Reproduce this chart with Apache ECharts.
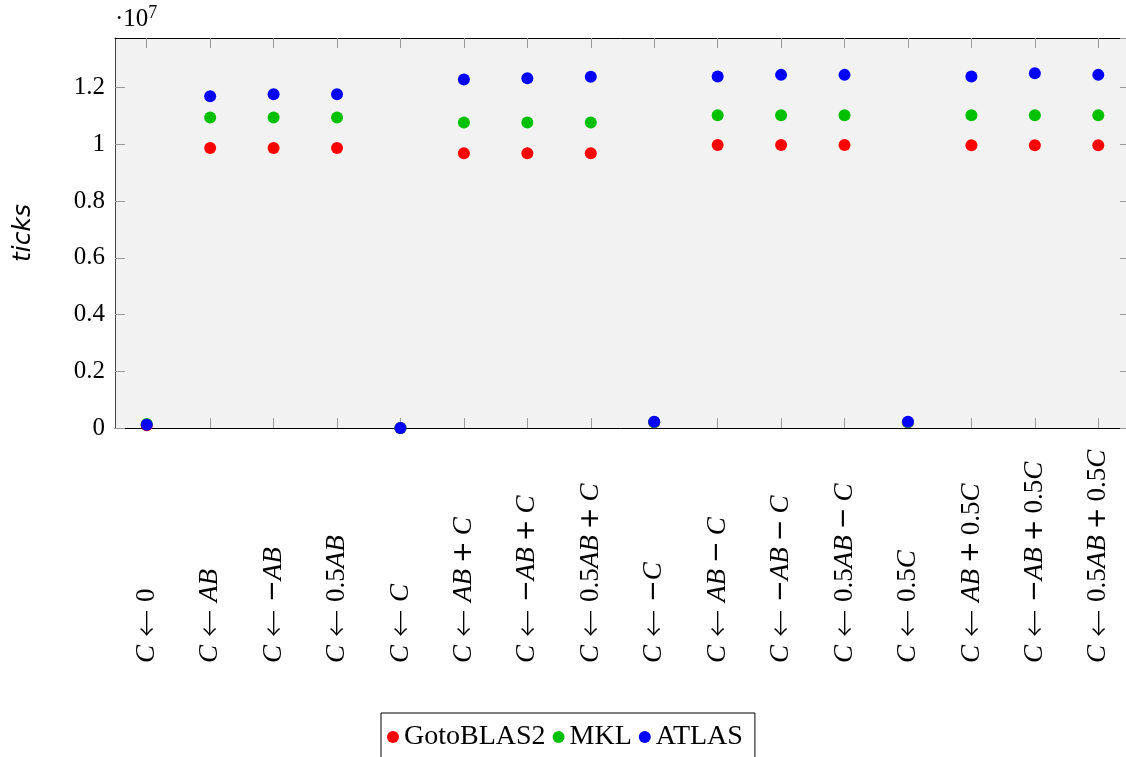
<!DOCTYPE html>
<html>
<head>
<meta charset="utf-8">
<script src="https://cdn.jsdelivr.net/npm/echarts@6/dist/echarts.min.js"></script>
<style>html,body{margin:0;padding:0;background:#fff}#c{width:1126px;height:757px}</style>
</head>
<body>
<div id="c"></div>
<script>
const categories = [
  "C ← 0", "C ← AB", "C ← −AB", "C ← 0.5AB", "C ← C",
  "C ← AB + C", "C ← −AB + C", "C ← 0.5AB + C", "C ← −C",
  "C ← AB − C", "C ← −AB − C", "C ← 0.5AB − C", "C ← 0.5C",
  "C ← AB + 0.5C", "C ← −AB + 0.5C", "C ← 0.5AB + 0.5C"
];
const gotoBLAS2 = [100000, 9870000, 9870000, 9870000, 0, 9690000, 9690000, 9690000, 200000, 9980000, 9980000, 9980000, 200000, 9970000, 9970000, 9970000];
const mkl = [140000, 10950000, 10950000, 10950000, 0, 10770000, 10770000, 10770000, 200000, 11030000, 11030000, 11030000, 200000, 11030000, 11030000, 11030000];
const atlas = [116000, 11700000, 11770000, 11770000, 0, 12290000, 12330000, 12380000, 220000, 12390000, 12450000, 12450000, 220000, 12390000, 12510000, 12450000];
const yTicks = [0, 0.2, 0.4, 0.6, 0.8, 1, 1.2];

const serif = "'Liberation Serif', 'DejaVu Serif', serif";
const sans = "'DejaVu Sans', sans-serif";
const cjk = "'Noto Sans CJK JP', 'DejaVu Sans', sans-serif";
function mathLabel(s) {
  return s.split(' ').map(tok => {
    if (tok === '←') return '{ar|←}';
    if (tok === '+' || tok === '−') return '{op|' + tok + '}';
    return tok.split(/([A-Z]+|−)/).filter(t => t.length).map(t =>
      /^[A-Z]+$/.test(t) ? '{i|' + t + '}' : (t === '−' ? '{um|−}' : '{n|' + t + '}')
    ).join('');
  }).join('');
}
const rich = {
  i: { fontFamily: serif, fontStyle: 'italic', fontSize: 27, color: '#000' },
  n: { fontFamily: serif, fontSize: 27, color: '#000' },
  ar: { fontFamily: cjk, fontSize: 27, fontWeight: 300, color: '#000', padding: [0, 8, 0, 8] },
  op: { fontFamily: sans, fontSize: 26, color: '#000', padding: [0, 6, 0, 6] },
  um: { fontFamily: sans, fontSize: 26, color: '#000' }
};

const chart = echarts.init(document.getElementById('c'));
const mk = (name, data, color) => ({
  name, type: 'scatter', data, symbol: 'circle', symbolSize: 12, clip: false,
  itemStyle: { color, opacity: 1 }, emphasis: { disabled: true }, xAxisIndex: 0, yAxisIndex: 0
});
const tick = () => ({ show: true, inside: true, length: 10, lineStyle: { color: '#999', width: 1 } });
const line = c => ({ show: true, onZero: false, lineStyle: { color: c, width: 1 } });
chart.setOption({
  animation: false,
  grid: { left: 115, top: 38, right: -4, bottom: 329, show: true, backgroundColor: '#f2f2f2', borderWidth: 0,
          outerBoundsMode: 'none', containLabel: false },
  xAxis: [{
    type: 'category', data: categories, position: 'bottom',
    axisLine: line('#000'),
    axisTick: Object.assign(tick(), { alignWithLabel: true, interval: 0 }),
    axisLabel: {
      show: true, rotate: 90, align: 'left', margin: 235, interval: 0, hideOverlap: false,
      formatter: v => mathLabel(v), rich: rich
    },
    splitLine: { show: false }
  }, {
    type: 'category', data: categories, position: 'top', show: true,
    axisLine: line('#000'),
    axisTick: Object.assign(tick(), { alignWithLabel: true, interval: 0 }),
    axisLabel: { show: false }, splitLine: { show: false }
  }],
  yAxis: [{
    type: 'value', min: 0, max: 13750000, interval: 2000000, position: 'left',
    name: '{a|·10}{s|7}', nameLocation: 'end', nameGap: 4,
    nameTextStyle: {
      align: 'left', verticalAlign: 'bottom',
      rich: {
        a: { fontFamily: serif, fontSize: 25, color: '#000' },
        s: { fontFamily: serif, fontSize: 18, color: '#000', verticalAlign: 'top', padding: [0, 0, 12, 0] }
      }
    },
    axisLine: line('#444'),
    axisTick: tick(),
    axisLabel: {
      margin: 10, showMaxLabel: false, fontFamily: serif, fontSize: 25, color: '#000',
      formatter: v => { const t = Math.round(v / 1e5) / 100; return yTicks.includes(t) ? String(t) : ''; }
    },
    splitLine: { show: false }
  }, {
    type: 'value', min: 0, max: 13750000, interval: 2000000, position: 'right', show: true,
    axisLine: line('#000'),
    axisTick: tick(),
    axisLabel: { show: false }, splitLine: { show: false }
  }],
  legend: {
    left: 381, top: 713, orient: 'horizontal',
    data: ['GotoBLAS2', 'MKL', 'ATLAS'],
    icon: 'circle', itemWidth: 12, itemHeight: 12, itemGap: 7,
    borderColor: '#000', borderWidth: 1, borderRadius: 0,
    padding: [10, 12, 20, 6],
    textStyle: { fontFamily: serif, fontSize: 28, color: '#000' }
  },
  graphic: [{
    type: 'text', x: 23, y: 233, rotation: Math.PI / 2,
    style: { text: 'ticks', fontFamily: sans, fontStyle: 'italic', fontSize: 25, fill: '#000',
             align: 'center', verticalAlign: 'middle' }
  }],
  series: [mk('GotoBLAS2', gotoBLAS2, '#ff0000'), mk('MKL', mkl, '#00c000'), mk('ATLAS', atlas, '#0000ff')]
});
</script>
</body>
</html>
